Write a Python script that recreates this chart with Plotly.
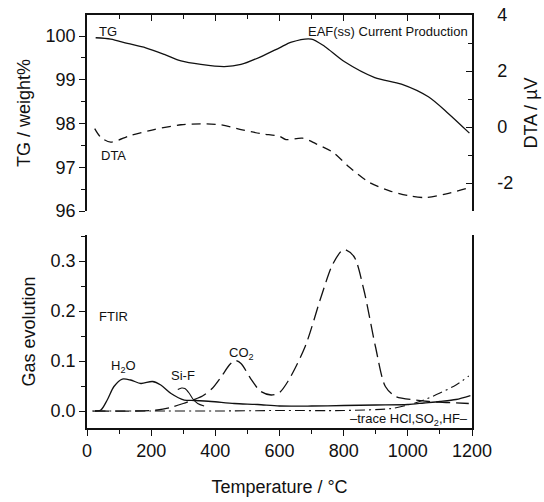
import plotly.graph_objects as go

# ---------------- data ----------------
T_tg = [27, 74, 126, 183, 241, 293, 355, 428, 480, 543, 600, 637, 699, 741, 803, 897, 980, 1064, 1126, 1192]
TG = [99.96, 99.93, 99.83, 99.73, 99.58, 99.43, 99.35, 99.30, 99.35, 99.53, 99.73, 99.86, 99.93, 99.76,
      99.41, 99.05, 98.90, 98.61, 98.23, 97.78]

T_dta = [24, 43, 74, 136, 209, 293, 355, 418, 480, 543, 600, 620, 672, 714, 766, 818, 880, 943, 1005, 1057, 1120, 1185]
DTA = [-0.06, -0.37, -0.54, -0.30, -0.09, 0.08, 0.11, 0.08, -0.09, -0.24, -0.33, -0.45, -0.40, -0.60,
       -0.90, -1.44, -1.98, -2.28, -2.46, -2.52, -2.39, -2.19]

T_h2o = [17, 43, 63, 84, 110, 136, 168, 204, 230, 262, 303, 334, 387, 459, 532, 600, 700, 800, 900, 1000,
         1050, 1100, 1150, 1195]
H2O = [0.0, 0.002, 0.022, 0.049, 0.064, 0.062, 0.055, 0.059, 0.052, 0.035, 0.022, 0.021, 0.019, 0.015,
       0.013, 0.010, 0.010, 0.011, 0.012, 0.013, 0.016, 0.019, 0.023, 0.031]

T_co2 = [25, 150, 220, 260, 300, 330, 360, 390, 420, 445, 462, 480, 510, 540, 574, 600, 627, 680, 730, 767,
         800, 832, 863, 899, 930, 962, 1024, 1066, 1120, 1190]
CO2 = [0.0, 0.0, 0.002, 0.007, 0.015, 0.022, 0.030, 0.045, 0.070, 0.093, 0.101, 0.095, 0.065, 0.040, 0.032,
       0.037, 0.060, 0.129, 0.229, 0.295, 0.323, 0.309, 0.242, 0.129, 0.049, 0.029, 0.022, 0.019, 0.017, 0.015]

T_sif = [283, 295, 305, 318, 330, 345, 365]
SIF = [0.043, 0.046, 0.045, 0.036, 0.024, 0.015, 0.010]

T_trace = [25, 200, 400, 600, 800, 950, 1000, 1050, 1100, 1150, 1190]
TRACE = [0.0, 0.0, 0.0, 0.001, 0.001, 0.005, 0.012, 0.022, 0.036, 0.052, 0.070]

DTA_TICKS = [-2, 0, 2, 4]
DTA_TICKTEXT = ["-2", "0", "2", "4"]

FONT = "Liberation Sans, Arial, sans-serif"
BLACK = "#111111"

fig = go.Figure()

# top panel
fig.add_trace(go.Scatter(x=T_tg, y=TG, xaxis="x2", yaxis="y2", mode="lines",
                         line=dict(color=BLACK, width=1.3, shape="spline", smoothing=0.8), name="TG"))
fig.add_trace(go.Scatter(x=T_dta, y=DTA, xaxis="x2", yaxis="y3", mode="lines",
                         line=dict(color=BLACK, width=1.3, dash="9px,6px", shape="spline", smoothing=0.8),
                         name="DTA"))

# bottom panel
fig.add_trace(go.Scatter(x=T_h2o, y=H2O, xaxis="x", yaxis="y", mode="lines",
                         line=dict(color=BLACK, width=1.3, shape="spline", smoothing=0.8), name="H2O"))
fig.add_trace(go.Scatter(x=T_co2, y=CO2, xaxis="x", yaxis="y", mode="lines",
                         line=dict(color=BLACK, width=1.3, dash="14px,6px", shape="spline", smoothing=0.8),
                         name="CO2"))
fig.add_trace(go.Scatter(x=T_sif, y=SIF, xaxis="x", yaxis="y", mode="lines",
                         line=dict(color=BLACK, width=1.1, shape="spline", smoothing=0.8), name="Si-F"))
fig.add_trace(go.Scatter(x=T_trace, y=TRACE, xaxis="x", yaxis="y", mode="lines",
                         line=dict(color=BLACK, width=1.1, dash="10px,4px,2px,4px", shape="spline", smoothing=0.8),
                         name="trace"))

axis_common = dict(showgrid=False, zeroline=False, showline=True, linecolor=BLACK, linewidth=1.5,
                   tickcolor=BLACK, tickwidth=1.2, automargin=False,
                   tickfont=dict(size=18, color=BLACK, family=FONT))
TITLE_FONT = dict(size=18, family=FONT, color=BLACK)

fig.update_layout(
    width=544, height=502,
    margin=dict(l=87, r=72, t=15, b=74),
    paper_bgcolor="white", plot_bgcolor="white",
    showlegend=False,
    font=dict(family=FONT, color=BLACK, size=13),
    xaxis=dict(domain=[0, 1], anchor="y", range=[0, 1200], dtick=200, tick0=0,
               ticks="outside", ticklen=6,
               minor=dict(dtick=100, tick0=0, ticks="outside", ticklen=4, tickcolor=BLACK),
               title=dict(text="Temperature / °C", font=TITLE_FONT, standoff=20),
               **axis_common),
    yaxis=dict(domain=[0, 0.4673], anchor="x", range=[-0.034, 0.352], dtick=0.1, tick0=0,
               tickformat=".1f", ticks="outside", ticklen=6, mirror=True,
               minor=dict(dtick=0.05, tick0=0, ticks="outside", ticklen=4, tickcolor=BLACK),
               title=dict(text="Gas evolution", font=TITLE_FONT, standoff=10),
               **axis_common),
    xaxis2=dict(domain=[0, 1], anchor="y2", side="top", range=[0, 1200], dtick=200, tick0=0,
                ticks="inside", ticklen=6, showticklabels=False,
                minor=dict(dtick=100, tick0=0, ticks="inside", ticklen=4, tickcolor=BLACK),
                **axis_common),
    yaxis2=dict(domain=[0.5254, 1], anchor="x2", range=[96, 100.48], dtick=1, tick0=96,
                ticks="outside", ticklen=6,
                minor=dict(dtick=0.5, tick0=96, ticks="outside", ticklen=4, tickcolor=BLACK),
                title=dict(text="TG / weight%", font=TITLE_FONT, standoff=10),
                **axis_common),
    yaxis3=dict(overlaying="y2", anchor="x2", side="right", range=[-3, 4],
                tickmode="array", tickvals=DTA_TICKS, ticktext=DTA_TICKTEXT,
                ticks="inside", ticklen=6, ticklabelstandoff=20,
                minor=dict(tickmode="linear", dtick=1, tick0=0, ticks="inside", ticklen=4, tickcolor=BLACK),
                title=dict(text="DTA / µV", font=TITLE_FONT, standoff=12),
                **axis_common),
)

ann = dict(showarrow=False, font=dict(size=13, family=FONT, color=BLACK))
fig.add_annotation(x=30, y=100.1, xref="x2", yref="y2", text="TG", xanchor="left", **ann)
fig.add_annotation(x=1195, y=100.11, xref="x2", yref="y2", text="EAF(ss) Current Production",
                   xanchor="right", **ann)
fig.add_annotation(x=37, y=97.26, xref="x2", yref="y2", text="DTA", xanchor="left", **ann)
fig.add_annotation(x=31, y=0.19, xref="x", yref="y", text="FTIR", xanchor="left", **ann)
fig.add_annotation(x=114, y=0.089, xref="x", yref="y", text="H<sub>2</sub>O", **ann)
fig.add_annotation(x=300, y=0.071, xref="x", yref="y", text="Si-F", **ann)
fig.add_annotation(x=483, y=0.116, xref="x", yref="y", text="CO<sub>2</sub>", **ann)
fig.add_annotation(x=1194, y=-0.016, xref="x", yref="y", text="–trace HCl,SO<sub>2</sub>,HF–",
                   xanchor="right", **ann)

fig.write_html("out.html")
